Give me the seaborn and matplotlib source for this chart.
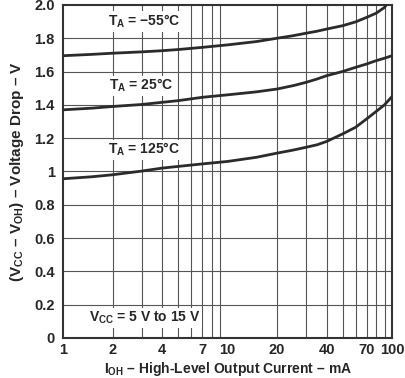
import matplotlib
matplotlib.use('Agg')
import matplotlib.pyplot as plt
import matplotlib.ticker as mticker
import pandas as pd
import seaborn as sns

# current (mA) and voltage drop (V)
i_oh = [1, 1.5, 2, 3, 4, 5, 7, 10, 15, 20, 25, 30, 35, 40, 50, 60, 70, 80, 90, 100]
drop_m55 = [1.695, 1.703, 1.71, 1.718, 1.725, 1.732, 1.745, 1.76, 1.78, 1.80,
            1.815, 1.83, 1.842, 1.855, 1.875, 1.898, 1.925, 1.95, 1.985, 2.05]
drop_25 = [1.37, 1.38, 1.39, 1.402, 1.415, 1.425, 1.445, 1.46, 1.478, 1.495,
           1.515, 1.535, 1.555, 1.575, 1.60, 1.625, 1.645, 1.665, 1.68, 1.695]
drop_125 = [0.956, 0.968, 0.98, 1.002, 1.02, 1.03, 1.045, 1.06, 1.085, 1.11,
            1.128, 1.145, 1.16, 1.18, 1.225, 1.265, 1.315, 1.36, 1.40, 1.45]

xticks = [1, 2, 4, 7, 10, 20, 40, 70, 100]
yticks = [0, 0.2, 0.4, 0.6, 0.8, 1, 1.2, 1.4, 1.6, 1.8, 2.0]
ylabels = ['0', '0.2', '0.4', '0.6', '0.8', '1', '1.2', '1.4', '1.6', '1.8', '2.0']

df = pd.DataFrame({
    'I': i_oh * 3,
    'V': drop_m55 + drop_25 + drop_125,
    'T': ['-55'] * len(i_oh) + ['25'] * len(i_oh) + ['125'] * len(i_oh),
})

sns.set_style('white')
plt.rcParams['font.family'] = ['Liberation Sans', 'DejaVu Sans']
plt.rcParams['font.weight'] = 'bold'
plt.rcParams['mathtext.fontset'] = 'custom'
plt.rcParams['mathtext.rm'] = 'Liberation Sans:bold'
plt.rcParams['mathtext.bf'] = 'Liberation Sans:bold'
plt.rcParams['mathtext.it'] = 'Liberation Sans:bold'
plt.rcParams['mathtext.default'] = 'bf'

fig = plt.figure(figsize=(4.05, 3.78), dpi=100)
ax = fig.add_axes([0.156, 0.106, 0.812, 0.881])

ax.set_xscale('log')
ax.set_xlim(1, 100)
ax.set_ylim(0, 2.0)

# grid
for d in [1, 10]:
    for k in range(2, 10):
        ax.axvline(k * d, color='#555555', lw=0.8, zorder=1)
for y in yticks[1:-1]:
    ax.axhline(y, color='#555555', lw=0.8, zorder=1)

sns.lineplot(data=df, x='I', y='V', hue='T', palette=['#2b2b2b'] * 3,
             lw=2.0, legend=False, ax=ax, zorder=3)

ax.xaxis.set_major_locator(mticker.FixedLocator(xticks))
ax.xaxis.set_minor_locator(mticker.NullLocator())
ax.xaxis.set_major_formatter(mticker.FixedFormatter([str(x) for x in xticks]))
ax.set_yticks(yticks)
ax.set_yticklabels(ylabels)
ax.tick_params(axis='y', labelsize=10.5, length=0, pad=6)
ax.tick_params(axis='x', labelsize=10.5, length=0, pad=4)

for s in ax.spines.values():
    s.set_color('#333333')
    s.set_linewidth(1.5)

ax.set_xlabel('I$_{OH}$ – High-Level Output Current – mA', fontsize=10, fontweight='bold', labelpad=2)
ax.set_ylabel('(V$_{CC}$ – V$_{OH}$) – Voltage Drop – V', fontsize=11, fontweight='bold', labelpad=6)

box = dict(facecolor='white', edgecolor='none', pad=1)
ax.text(3.1, 1.90, 'T$_{A}$ = −55°C', fontsize=10, fontweight='bold', va='center', ha='center', bbox=box, zorder=4)
ax.text(3.0, 1.515, 'T$_{A}$ = 25°C', fontsize=10, fontweight='bold', va='center', ha='center', bbox=box, zorder=4)
ax.text(3.1, 1.13, 'T$_{A}$ = 125°C', fontsize=10, fontweight='bold', va='center', ha='center', bbox=box, zorder=4)
ax.text(3.15, 0.12, 'V$_{CC}$ = 5 V to 15 V', fontsize=10, fontweight='bold', va='center', ha='center', bbox=box, zorder=4)

fig.savefig('out.png', dpi=100)
